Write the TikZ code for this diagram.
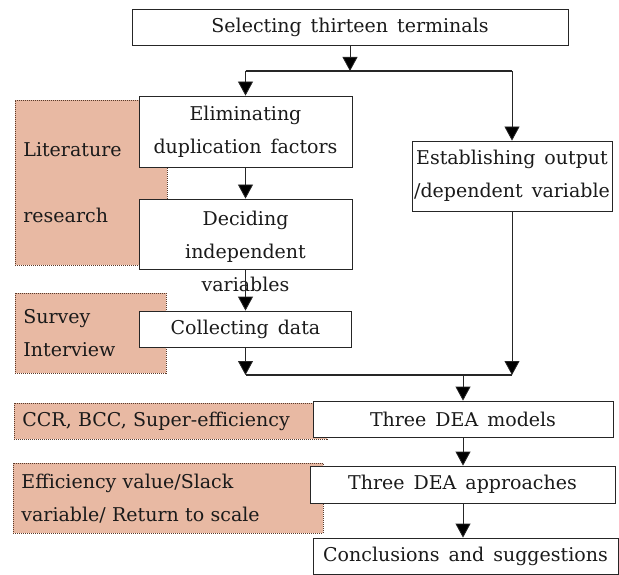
\documentclass[tikz,border=0pt]{standalone}
\usepackage{fontspec}
\setmainfont{DejaVu Serif}
\usetikzlibrary{arrows.meta}
\definecolor{salm}{HTML}{E8B9A3}
\definecolor{dotc}{HTML}{5A3A2A}
\definecolor{txt}{HTML}{1A1A1A}
\DeclareRobustCommand\diagfont{\rmfamily\fontsize{19pt}{33pt}\selectfont\spaceskip=9pt plus 2pt minus 1pt\relax}
\begin{document}
\begin{tikzpicture}[x=1pt,y=-1pt,
  every node/.style={text=txt,font=\diagfont},
  wbox/.style={draw=black!85,line width=0.8pt,fill=white,align=center,inner sep=0pt},
  sbox/.style={fill=salm,draw=dotc,line width=0.8pt,dash pattern=on 1pt off 1pt,
    inner xsep=8pt,inner ysep=0pt,align=left,anchor=north west},
  arr/.style={draw=black!85,line width=0.8pt,-{Triangle[width=15pt 0 0,length=14pt 0 0,fill=black]}},
  hline/.style={draw=black!85,line width=1.4pt}]
\useasboundingbox (0,0) rectangle (619,575);
% salmon side boxes
\node[sbox,text width=136pt,minimum height=165pt] (lit) at (15,100) {Literature\\[33pt]research};
\node[sbox,text width=135pt,minimum height=80pt] (surv) at (15,293) {Survey\\Interview};
\node[sbox,text width=297pt,minimum height=36pt] (ccr) at (14,403) {CCR, BCC, Super-efficiency};
\node[sbox,text width=294pt,minimum height=70pt] (eff) at (13,463) {Efficiency value/Slack\\variable/ Return to scale};
% main boxes
\node[wbox,minimum width=436pt,minimum height=36pt] (sel) at (350,27) {Selecting thirteen terminals};
\node[wbox,minimum width=213pt,minimum height=71pt] (elim) at (245.5,131.5) {Eliminating\\duplication factors};
\node[wbox,minimum width=213pt,minimum height=70pt] (dec) at (245.5,234) {};
\node[align=center,inner sep=0pt] (dectext) at (245.5,251) {Deciding\\independent\\variables};
\node[wbox,minimum width=212pt,minimum height=36pt] (coll) at (245.5,329) {Collecting data};
\node[wbox,minimum width=200pt,minimum height=70pt] (est) at (512,176) {Establishing output\\/dependent variable};
\node[wbox,minimum width=300pt,minimum height=36pt] (m3) at (463,419) {Three DEA models};
\node[wbox,minimum width=305pt,minimum height=37pt] (app) at (462.5,484.5) {Three DEA approaches};
\node[wbox,minimum width=305pt,minimum height=36pt] (conc) at (465.5,556) {Conclusions and suggestions};
% junctions
\coordinate (j1) at (350,71);
\coordinate (j1l) at (elim.north |- j1);
\coordinate (j1r) at (est.north |- j1);
\coordinate (j2) at (463,375);
\coordinate (j2l) at (coll.south |- j2);
\coordinate (j2r) at (est.south |- j2);
% connectors
\draw[arr] (sel.south) -- (j1);
\draw[hline] (j1l) -- (j1r);
\draw[arr] (j1l) -- (elim.north);
\draw[arr] (j1r) -- (est.north);
\draw[arr] (elim.south) -- (dec.north);
\draw[arr] (dec.south) -- (coll.north);
\draw[arr] (coll.south) -- (j2l);
\draw[arr] (est.south) -- (j2r);
\draw[hline] (j2l) -- (j2r);
\draw[arr] (j2) -- (m3.north);
\draw[arr] (m3.south) -- (m3.south |- app.north);
\draw[arr] (m3.south |- app.south) -- (m3.south |- conc.north);
\end{tikzpicture}
\end{document}
